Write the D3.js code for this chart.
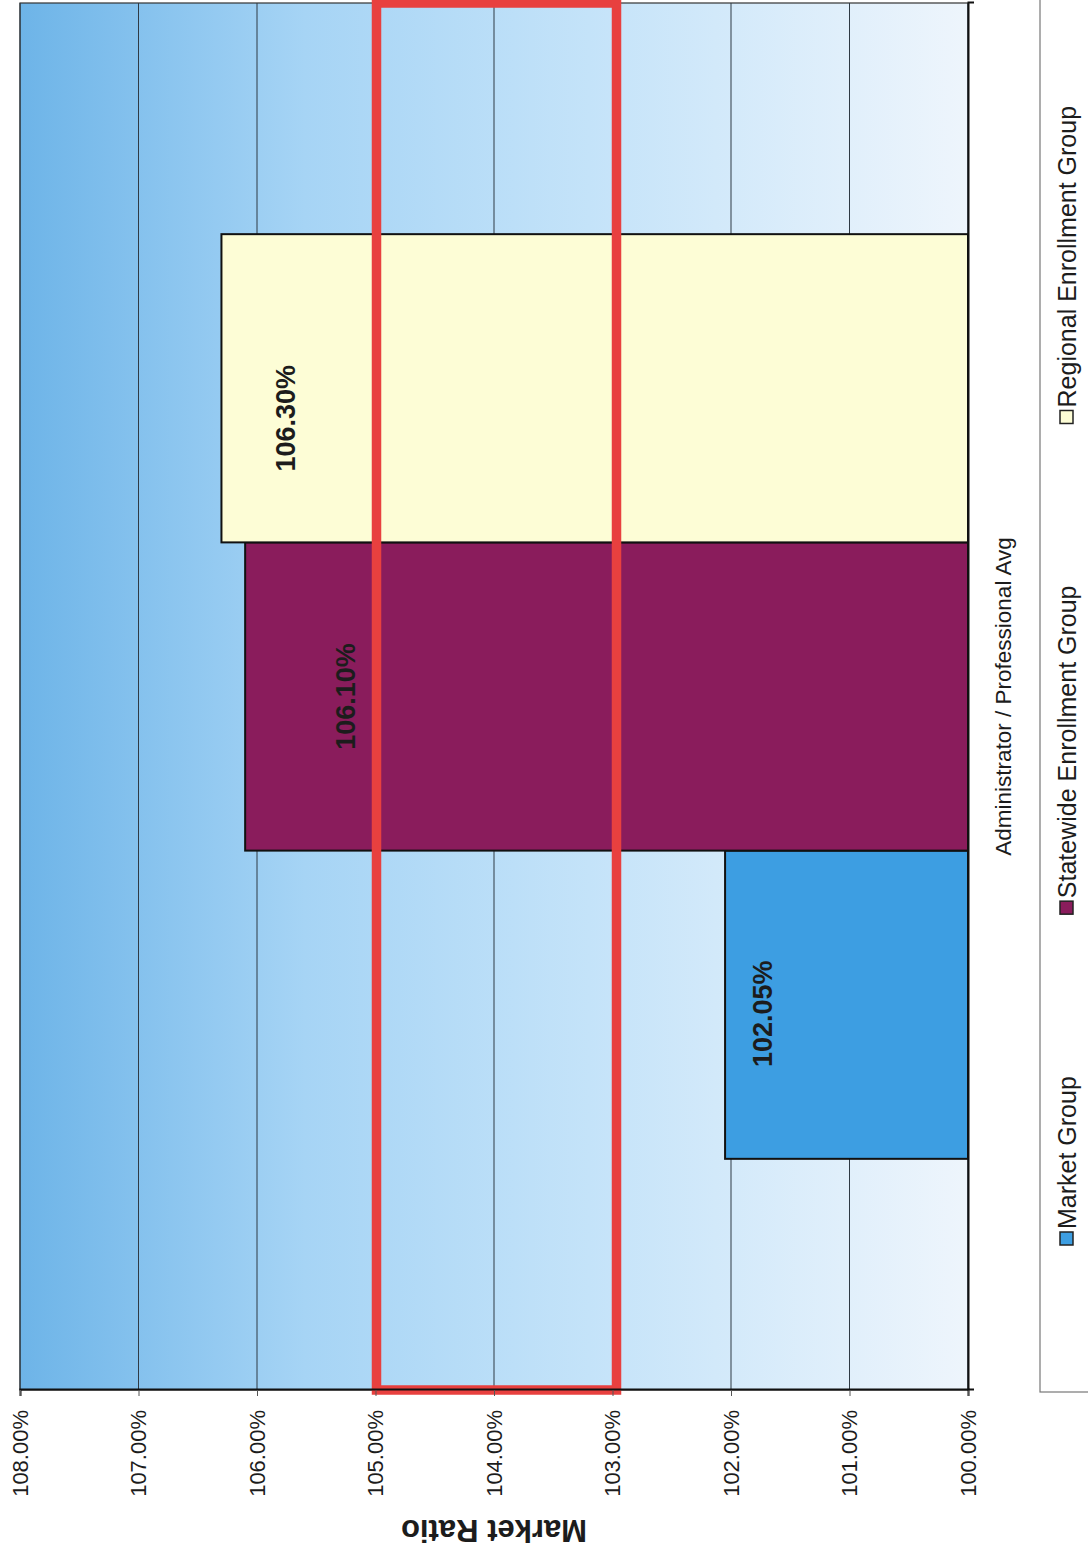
<!DOCTYPE html>
<html>
<head lang="en">
    <meta charset="UTF-8">
    <title>Market Ratio</title>
    <script src="https://cdnjs.cloudflare.com/ajax/libs/d3/7.8.5/d3.min.js"></script>

    <style>
        body {
            margin: 0;
            background: #fff;
        }
        text {
            font-family: Arial, "Liberation Sans", sans-serif;
            fill: #1c1c1c;
        }
        .grid line {
            stroke: #2f3a44;
            stroke-width: 1;
        }
    </style>
</head>
<body>

<script>

    var categories = ["Administrator / Professional Avg"];
    var groups = ["Market Group", "Statewide Enrollment Group", "Regional Enrollment Group"];
    var values = [102.05, 106.10, 106.30];
    var yTicks = [100, 101, 102, 103, 104, 105, 106, 107, 108];
    var highlightBand = [103, 105];

    var colors = ["#3d9ee2", "#8a1c5c", "#fdfdd6"];

    // the page is scanned sideways: draw a landscape chart and turn it -90deg
    var W = 1552, H = 1088;
    var plot = {left: 162, right: 1549, top: 20, bottom: 968};

    var svg = d3.select("body").append("svg")
            .attr("width", H)
            .attr("height", W);

    var defs = svg.append("defs");
    var grad = defs.append("linearGradient")
            .attr("id", "bg")
            .attr("x1", 0).attr("y1", 0)
            .attr("x2", 0).attr("y2", 1);
    grad.append("stop").attr("offset", "0%").attr("stop-color", "#6db4e8");
    grad.append("stop").attr("offset", "30%").attr("stop-color", "#a6d4f5");
    grad.append("stop").attr("offset", "60%").attr("stop-color", "#c4e3f9");
    grad.append("stop").attr("offset", "100%").attr("stop-color", "#eef5fc");

    var g = svg.append("g")
            .attr("transform", "translate(0," + W + ") rotate(-90)");

    var x0 = d3.scaleBand()
            .domain(categories)
            .range([plot.left, plot.right]);

    var x1 = d3.scaleBand()
            .domain(groups)
            .range([0, x0.bandwidth()])
            .paddingInner(0)
            .paddingOuter(0.75);

    var y = d3.scaleLinear()
            .domain([d3.min(yTicks), d3.max(yTicks)])
            .range([plot.bottom, plot.top]);

    // plot background
    g.append("rect")
            .attr("x", plot.left)
            .attr("y", plot.top)
            .attr("width", plot.right - plot.left)
            .attr("height", plot.bottom - plot.top)
            .attr("fill", "url(#bg)")
            .attr("stroke", "#333")
            .attr("stroke-width", 1.2);

    // gridlines
    g.append("g")
            .attr("class", "grid")
            .selectAll("line")
            .data(yTicks)
            .enter().append("line")
            .attr("x1", plot.left)
            .attr("x2", plot.right)
            .attr("y1", function(d) { return y(d); })
            .attr("y2", function(d) { return y(d); });

    // bars
    var cat = g.append("g")
            .attr("transform", "translate(" + x0(categories[0]) + ",0)");

    cat.selectAll("rect")
            .data(values)
            .enter().append("rect")
            .attr("x", function(d, i) { return x1(groups[i]); })
            .attr("y", function(d) { return y(d); })
            .attr("width", x1.bandwidth())
            .attr("height", function(d) { return y(y.domain()[0]) - y(d); })
            .attr("fill", function(d, i) { return colors[i]; })
            .attr("stroke", "#111")
            .attr("stroke-width", 2);

    // value labels (dragged by hand in the original, so nudged a bit)
    var nudge = [[-9, 38], [0, 101], [-30, 65]];
    cat.selectAll("text.val")
            .data(values)
            .enter().append("text")
            .attr("class", "val")
            .attr("x", function(d, i) { return x1(groups[i]) + x1.bandwidth() / 2 + nudge[i][0]; })
            .attr("y", function(d, i) { return y(d) + nudge[i][1]; })
            .attr("text-anchor", "middle")
            .attr("dominant-baseline", "central")
            .style("font-size", "27px")
            .style("font-weight", "bold")
            .text(function(d) { return d.toFixed(2) + "%"; });

    // red highlight box (hand-drawn, sits a touch past the 103% line)
    g.append("rect")
            .attr("x", plot.left)
            .attr("y", y(highlightBand[1]) + 1)
            .attr("width", plot.right - plot.left)
            .attr("height", y(highlightBand[0]) - y(highlightBand[1]) + 3)
            .attr("fill", "none")
            .attr("stroke", "#e8403f")
            .attr("stroke-width", 9.5);

    // value axis
    var yAxis = g.append("g")
            .attr("transform", "translate(" + plot.left + ",0)")
            .call(d3.axisLeft(y)
                    .tickValues(yTicks)
                    .tickSize(6)
                    .tickPadding(14)
                    .tickFormat(function(d) { return d.toFixed(2) + "%"; }));
    yAxis.select(".domain").attr("stroke", "#111").attr("stroke-width", 2);
    yAxis.selectAll(".tick line").attr("stroke", "#555");
    yAxis.selectAll("text").style("font-size", "22px").attr("fill", "#1c1c1c");

    // category axis
    var xAxis = g.append("g")
            .attr("transform", "translate(0," + plot.bottom + ")")
            .call(d3.axisBottom(x0).tickSize(0).tickSizeOuter(6).tickPadding(27));
    xAxis.select(".domain").attr("stroke", "#111").attr("stroke-width", 2);
    xAxis.selectAll("text").style("font-size", "22.5px").attr("fill", "#1c1c1c");

    // axis title
    g.append("text")
            .attr("transform", "translate(" + 22 + "," + ((plot.top + plot.bottom) / 2) + ") rotate(-90)")
            .attr("text-anchor", "middle")
            .attr("dominant-baseline", "central")
            .style("font-size", "31px")
            .style("font-weight", "bold")
            .text("Market Ratio");

    // legend
    var legend = g.append("g");
    legend.append("rect")
            .attr("x", plot.left - 2)
            .attr("y", 1040)
            .attr("width", W - plot.left + 10)
            .attr("height", 80)
            .attr("fill", "#fff")
            .attr("stroke", "#777")
            .attr("stroke-width", 1.2);

    var lx = 307, itemGap = 162, ly = 1067;
    groups.forEach(function(name, i) {
        var item = legend.append("g").attr("transform", "translate(" + lx + "," + ly + ")");
        item.append("rect")
                .attr("x", 0)
                .attr("y", -7)
                .attr("width", 13)
                .attr("height", 13)
                .attr("fill", colors[i])
                .attr("stroke", "#222")
                .attr("stroke-width", 1.5);
        var t = item.append("text")
                .attr("x", 16)
                .attr("y", 0)
                .attr("dominant-baseline", "central")
                .style("font-size", "25px")
                .text(name);
        lx += 16 + t.node().getComputedTextLength() + itemGap;
    });

</script>
</body>
</html>
